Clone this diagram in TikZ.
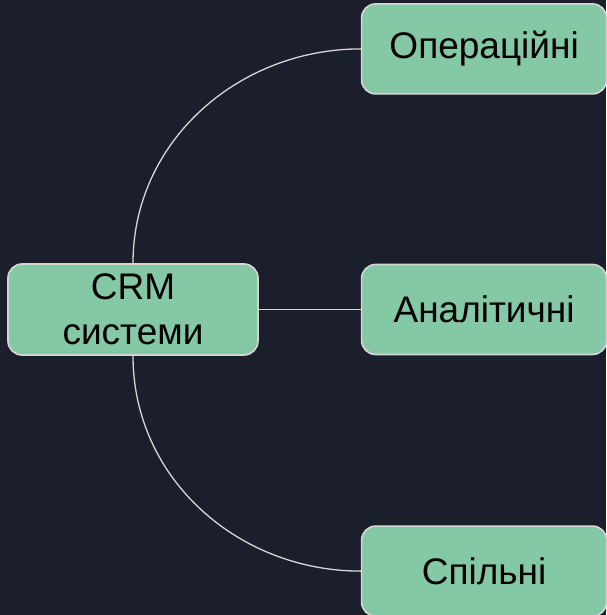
\documentclass[tikz,border=0pt]{standalone}
\usepackage{fontspec}
\setmainfont{Liberation Sans}
\usepackage{tikz}
\usetikzlibrary{ calc, positioning }
\definecolor{bgnavy}{HTML}{1B1F2B}
\definecolor{boxgreen}{HTML}{84C8A6}
\definecolor{linegrey}{HTML}{D6D6D6}
\tikzset{
node distance=100pt, % default gap between boxes
every node/.style={inner sep=1pt},
kind/.style={draw=linegrey, line width=1.6pt, fill=boxgreen, rounded corners=14pt,
  minimum width=245pt, minimum height=90pt, align=center,
  font=\fontsize{37}{45}\selectfont}, % sets the look of each box
link/.style={draw=linegrey, line width=1.3pt}, % the thin connectors
}
\begin{document}
\begin{tikzpicture}[x=1pt,y=-1pt]
  \fill[bgnavy] (0,0) rectangle (606,615);
  \useasboundingbox (0,0) rectangle (606,615);
  \node[kind, minimum width=250pt, minimum height=91pt] (crm) at (133,309.5) {CRM\\системи};
  \node[kind, right=102pt of crm] (anal) {Аналітичні};
  \node[kind, above=169pt of anal] (oper) {Операційні};
  \node[kind, below=170pt of anal] (spil) {Спільні};

  \path[link] (crm.north) edge[out=90, in=180] (oper.west)
  (crm.east) edge (anal.west)
  (crm.south) edge[out=-90, in=180] (spil.west);
\end{tikzpicture}
\end{document}
